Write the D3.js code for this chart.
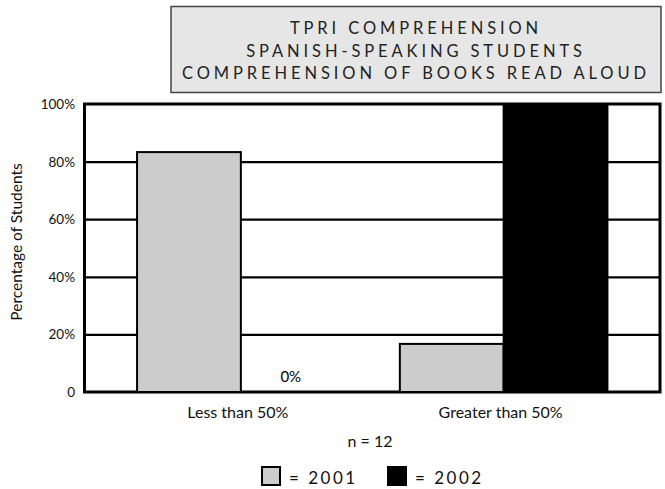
<!DOCTYPE html>
<html lang="en">
<head>
  <meta charset="UTF-8">
  <title>TPRI Comprehension</title>
  <script src="https://cdn.jsdelivr.net/npm/d3@7"></script>
  <style>
    body { margin: 0; background: #fff; }
    svg { display: block; font-family: Lato, "Open Sans", sans-serif; }
  </style>
</head>
<body>
<svg id="chart"></svg>
<script>
  const titleLines = ["TPRI COMPREHENSION", "SPANISH-SPEAKING STUDENTS", "COMPREHENSION OF BOOKS READ ALOUD"]
  const categories = ["Less than 50%", "Greater than 50%"]
  const years = ["2001", "2002"]
  const values2001 = [83.3, 16.7]
  const values2002 = [0, 100]
  const yTicks = [0, 20, 40, 60, 80, 100]
  const yTickLabels = ["0", "20%", "40%", "60%", "80%", "100%"]
  const colors = ["#cccccc", "#000000"]

  const width = 665
  const height = 489
  const svg = d3.select("#chart").attr("width", width).attr("height", height)

  const plotLeft = 84.5, plotRight = 660, plotTop = 104, plotBottom = 392

  // title box
  svg.append("rect")
    .attr("x", 171).attr("y", 6.5).attr("width", 490).attr("height", 86)
    .attr("fill", "#e6e6e6").attr("stroke", "#444").attr("stroke-width", 1.5)
  svg.append("g").selectAll("text").data(titleLines).join("text")
    .attr("x", 416).attr("y", (d, i) => 34 + i * 22.5)
    .attr("text-anchor", "middle")
    .attr("font-size", 16.5).attr("letter-spacing", 3.9)
    .attr("fill", "#222")
    .text(d => d)

  const x0 = d3.scaleBand().domain(categories).range([plotLeft, plotRight]).paddingInner(0.21).paddingOuter(0.2)
  const x1 = d3.scaleBand().domain(years).range([0, x0.bandwidth()])
  const y = d3.scaleLinear().domain([0, 100]).range([plotBottom, plotTop])

  // gridlines
  svg.append("g")
    .attr("transform", `translate(${plotLeft},0)`)
    .call(d3.axisLeft(y).tickValues(yTicks.slice(1, -1)).tickSize(-(plotRight - plotLeft)).tickFormat(""))
    .call(g => g.select(".domain").remove())
    .call(g => g.selectAll("line").attr("stroke", "#000").attr("stroke-width", 2.3))

  // tick labels
  svg.append("g").selectAll("text").data(yTicks).join("text")
    .attr("x", 75).attr("y", d => y(d) + 5)
    .attr("text-anchor", "end").attr("font-size", 13.5).attr("fill", "#111")
    .text((d, i) => yTickLabels[i])

  // frame
  svg.append("rect")
    .attr("x", plotLeft).attr("y", plotTop).attr("width", plotRight - plotLeft).attr("height", plotBottom - plotTop)
    .attr("fill", "none").attr("stroke", "#000").attr("stroke-width", 3)

  const rows = categories.map((c, i) => ({
    cat: c,
    vals: [values2001[i], values2002[i]].map((v, j) => ({ v, year: years[j] }))
  }))

  const groups = svg.append("g").selectAll("g").data(rows).join("g")
    .attr("transform", d => `translate(${x0(d.cat)},0)`)

  groups.selectAll("rect").data(d => d.vals.filter(e => e.v > 0)).join("rect")
    .attr("x", d => x1(d.year))
    .attr("y", d => y(d.v))
    .attr("width", x1.bandwidth())
    .attr("height", d => y(0) - y(d.v))
    .attr("fill", d => colors[years.indexOf(d.year)])
    .attr("stroke", "#000").attr("stroke-width", 2)

  // zero label
  groups.selectAll("text.zero").data(d => d.vals.filter(e => e.v === 0)).join("text")
    .attr("class", "zero")
    .attr("x", d => x1(d.year) + x1.bandwidth() / 2 - 2)
    .attr("y", plotBottom - 10)
    .attr("text-anchor", "middle").attr("font-size", 15)
    .text("0%")

  // category labels
  svg.append("g").selectAll("text").data(categories).join("text")
    .attr("x", d => x0(d) + x0.bandwidth() / 2 - 3)
    .attr("y", 418)
    .attr("text-anchor", "middle").attr("font-size", 16).attr("fill", "#111")
    .text(d => d)

  svg.append("text")
    .attr("x", 370).attr("y", 447)
    .attr("text-anchor", "middle").attr("font-size", 16).attr("fill", "#111")
    .text("n = 12")

  svg.append("text")
    .attr("transform", `translate(22,${(plotTop + plotBottom) / 2 - 6}) rotate(-90)`)
    .attr("text-anchor", "middle").attr("font-size", 15.5).attr("fill", "#111")
    .text("Percentage of Students")

  // legend
  const legendX = [261, 387]
  const legend = svg.append("g").selectAll("g").data(years).join("g")
    .attr("transform", (d, i) => `translate(${legendX[i]},467)`)
  legend.append("rect")
    .attr("x", 1).attr("y", 0).attr("width", 18).attr("height", 18)
    .attr("fill", (d, i) => colors[i]).attr("stroke", "#000").attr("stroke-width", 2)
  legend.append("text")
    .attr("x", 28).attr("y", 17)
    .attr("font-size", 17).attr("letter-spacing", 2.5).attr("fill", "#111")
    .text(d => "= " + d)
</script>
</body>
</html>
